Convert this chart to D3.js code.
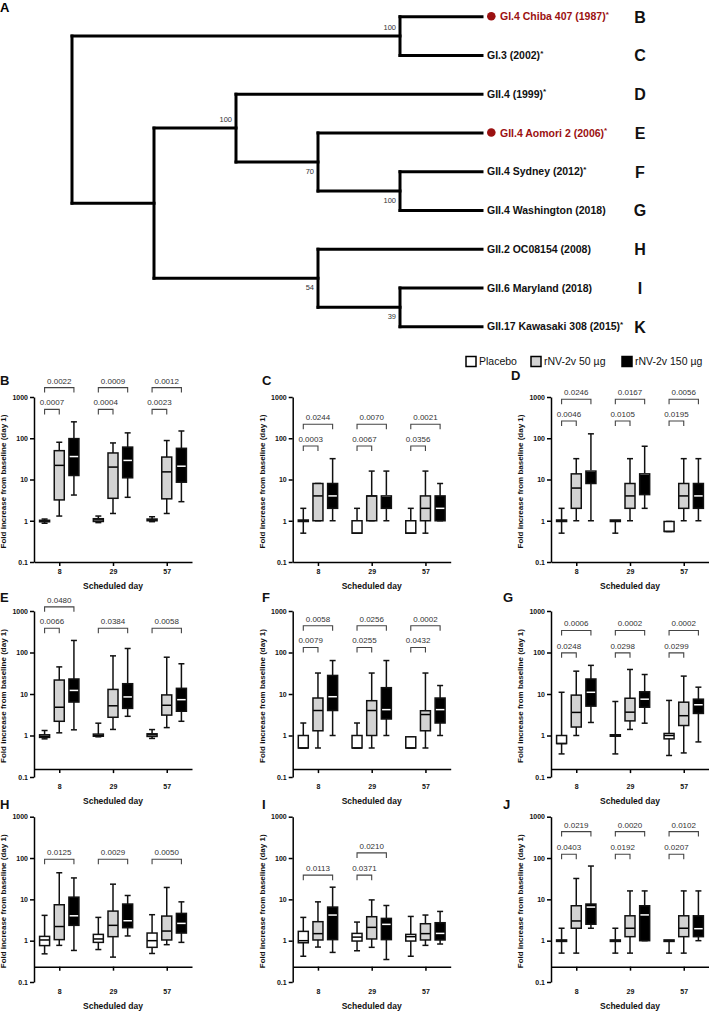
<!DOCTYPE html>
<html><head><meta charset="utf-8">
<script src="https://cdn.jsdelivr.net/npm/d3@7"></script>
<style>
body{margin:0;background:#fff}
svg{display:block}
text{font-family:"Liberation Sans",Arial,Helvetica,sans-serif}
</style>
</head><body>
<svg id="fig" width="709" height="1011"></svg>
<script>
// ---------------- DATA ----------------
// Phylogenetic tree (A)
const tipLabels = ["GI.4 Chiba 407 (1987)", "GI.3 (2002)", "GII.4 (1999)", "GII.4 Aomori 2 (2006)",
  "GII.4 Sydney (2012)", "GII.4 Washington (2018)", "GII.2 OC08154 (2008)", "GII.6 Maryland (2018)",
  "GII.17 Kawasaki 308 (2015)"];
const tipStar = [true, true, true, true, true, false, false, false, true];
const tipVaccine = [true, false, false, true, false, false, false, false, false];
const tipPanel = ["B", "C", "D", "E", "F", "G", "H", "I", "K"];
// topology with bootstrap support (leaf indices refer to tipLabels)
const treeNewick = "((0,1)100,((2,(3,(4,5)100)70)100,(6,(7,8)39)54))";

// Box plots (B–J)
const days = [8, 29, 57];
const groups = ["Placebo", "rNV-2v 50 µg", "rNV-2v 150 µg"];
const panelIds = ["B", "C", "D", "E", "F", "G", "H", "I", "J"];
const yTickValues = [0.1, 1, 10, 100, 1000];
// each box: [min, q1, median, q3, max]; order: day 8 (P, 50, 150), day 29 (...), day 57 (...)
const statsB = [[0.87,0.95,1,1.02,1.1],[1.3,3.2,22,50,80],[4.2,12.5,36,98,250],
  [0.9,0.96,1.05,1.12,1.3],[1.5,3.5,20,44,77],[3.7,11,29,61,135],
  [0.95,1,1.05,1.1,1.25],[1.5,3.4,15.3,35,88],[2.9,8.6,21,57,150]];
const statsC = [[0.5,1,1,1,2],[1,1,4,8,8],[1,2,4,8,32],
  [0.5,0.5,0.5,1,2],[1,1,4,4,16],[1,2,4,4,16],
  [0.5,0.5,0.5,1,2],[0.5,1,2,4,16],[1,1,2,4,8]];
const statsD = [[0.5,1,1,1,2],[1,2,6.2,13.7,32],[1,8,16,16,128],
  [0.5,1,1,1,1],[1,2,4,8,32],[2,4.3,13.7,13.7,64],
  [0.55,0.55,0.55,0.96,0.96],[1,2,4,8,32],[1,2,4,8,32]];
const statsE = [[0.83,0.9,0.96,1.04,1.32],[1.16,2.2,4.8,21.7,45],[1.37,6.4,12.2,23,195],
  [0.93,0.96,1,1.08,1.98],[1.4,2.75,5.2,12.9,83],[2.9,4.5,8.5,17.7,125],
  [0.85,0.95,1.04,1.1,1.39],[1.55,3.1,5.35,9.5,77],[2.2,3.84,7.3,13.7,53.5]];
const statsF = [[0.5,0.5,0.5,1,2],[0.5,1.3,4,8,32],[1,4,8.6,28,64],
  [0.5,0.5,0.5,1,2],[0.5,1,4,6.9,32],[1,2.5,4.2,14.2,64],
  [0.5,0.5,0.5,0.93,0.93],[0.5,1.3,3.2,3.95,32],[1,2,4.2,8,16]];
const statsG = [[0.36,0.64,0.64,1,11],[1,1.6,3.6,9.4,35.5],[2.06,5.1,11,23,49],
  [0.36,1,1,1,6.6],[1.4,2.25,3.65,7.9,39],[1.98,4.8,7.5,11.3,29.5],
  [0.33,0.83,1,1.12,7],[0.38,1.74,3,6.35,27],[0.7,3.4,5.5,7.5,14.6]];
const statsH = [[0.48,0.76,1.04,1.27,4.1],[0.77,1.06,2.2,7.4,44],[0.58,2.35,4,11.3,33],
  [0.61,0.91,1.1,1.42,3.66],[0.4,1.25,2.35,5.2,23.3],[1.3,2.06,3.04,7.7,12.4],
  [0.49,0.69,1,1.53,4.25],[0.8,1.04,1.71,3.94,19.4],[0.91,1.53,2.62,4.57,8.7]];
const statsI = [[0.42,0.89,1,1.68,3.66],[0.7,1.04,1.48,2.88,8.7],[0.52,1.06,4.17,6.5,19.7],
  [0.57,0.98,1.22,1.5,2.82],[0.69,1.1,2.1,3.8,9.7],[0.35,1.06,2.48,3.46,7.1],
  [0.42,0.98,1.25,1.42,3.86],[0.77,1.04,1.48,2.57,4.17],[0.83,1.04,1.5,2.72,5.1]];
const statsJ = [[0.5,1,1,1,2],[0.5,2,3,7,32],[2,2.5,6.5,7.7,64],
  [0.5,1,1,1,2],[0.5,1.25,2,4,16],[1,1,4.2,7,16],
  [0.5,1,1,1,1],[0.5,1.25,2,4,16],[1,1.25,1.95,4,16]];
// p-value comparisons vs placebo: [day, comparison group index, bracket tier, label]
const pB = [[8,1,1,"0.0007"],[8,2,0,"0.0022"],[29,1,1,"0.0004"],[29,2,0,"0.0009"],[57,1,1,"0.0023"],[57,2,0,"0.0012"]];
const pC = [[8,1,1,"0.0003"],[8,2,0,"0.0244"],[29,1,1,"0.0067"],[29,2,0,"0.0070"],[57,1,1,"0.0356"],[57,2,0,"0.0021"]];
const pD = [[8,1,1,"0.0046"],[8,2,0,"0.0246"],[29,1,1,"0.0105"],[29,2,0,"0.0167"],[57,1,1,"0.0195"],[57,2,0,"0.0056"]];
const pE = [[8,1,1,"0.0066"],[8,2,0,"0.0480"],[29,2,1,"0.0384"],[57,2,1,"0.0058"]];
const pF = [[8,1,1,"0.0079"],[8,2,0,"0.0058"],[29,1,1,"0.0255"],[29,2,0,"0.0256"],[57,1,1,"0.0432"],[57,2,0,"0.0002"]];
const pG = [[8,1,1,"0.0248"],[8,2,0,"0.0006"],[29,1,1,"0.0298"],[29,2,0,"0.0002"],[57,1,1,"0.0299"],[57,2,0,"0.0002"]];
const pH = [[8,2,0,"0.0125"],[29,2,0,"0.0029"],[57,2,0,"0.0050"]];
const pI = [[8,2,1,"0.0113"],[29,1,1,"0.0371"],[29,2,0,"0.0210"]];
const pJ = [[8,1,1,"0.0403"],[8,2,0,"0.0219"],[29,1,1,"0.0192"],[29,2,0,"0.0020"],[57,1,1,"0.0207"],[57,2,0,"0.0102"]];

// ---------------- LAYOUT / STYLE ----------------
const RED = "#9b1111";
const fills = ["#ffffff", "#d3d3d3", "#000000"];
const medianColors = ["#000", "#000", "#fff"];
// bracket tiers (fold level of bracket line) per panel: [upper, lower]
const tierLevels = {B:[1690,500], C:[218,65], D:[880,263], E:[1260,385], F:[442,132], G:[339,98], H:[93.5,93.5], I:[133,38.5], J:[436,123]};
const colX = [34, 292.7, 551];
const axisLen = 158;
const rowTop = [397, 611, 816.7];
const rowBottom = [562, 777, 982];
const xAxisAt = [0.1, 0.155, 0.235];
const letterX = [0, 262, 503];
const letterY = [385, 602, 809];

const svg = d3.select("#fig");
const FONT = '"Liberation Sans",Arial,sans-serif';

// ---------------- TREE ----------------
function parseNewick(s) {
  let i = 0;
  function node() {
    if (s[i] === "(") {
      i++;
      const children = [];
      while (true) {
        children.push(node());
        if (s[i] === ",") { i++; continue; }
        if (s[i] === ")") { i++; break; }
      }
      let lab = "";
      while (i < s.length && /[0-9]/.test(s[i])) lab += s[i++];
      return {children, support: lab};
    }
    let lab = "";
    while (/[0-9]/.test(s[i])) lab += s[i++];
    return {leaf: +lab};
  }
  return node();
}
const root = d3.hierarchy(parseNewick(treeNewick));
d3.cluster().separation(() => 1).size([1, 1])(root);
const leaves = root.leaves();
const tx = d3.scaleLinear().domain([0, 1]).range([72, 482]);
const ty = d3.scaleLinear().domain([leaves[0].x, leaves[leaves.length - 1].x]).range([16.7, 326.7]);

const tree = svg.append("g");
tree.append("text").attr("x", 0).attr("y", 12).attr("font-weight", "bold").attr("font-size", 13).text("A");
const branches = [];
root.each(n => {
  if (n.parent) branches.push([[tx(n.parent.y), ty(n.x)], [tx(n.y), ty(n.x)]]);
  if (n.children) {
    const c = n.children;
    branches.push([[tx(n.y), ty(c[0].x)], [tx(n.y), ty(c[c.length - 1].x)]]);
  }
});
tree.selectAll("path.br").data(branches).join("path").attr("class", "br")
  .attr("d", d => d3.line()(d)).attr("stroke", "#000").attr("stroke-width", 3)
  .attr("stroke-linecap", "square").attr("fill", "none");
root.each(n => {
  if (n.children && n.parent && n.data.support) {
    const isUpper = n.parent.children[0] === n;
    tree.append("text").attr("x", tx(n.y) - 4).attr("y", ty(n.x) + (isUpper ? -6 : 11.5))
      .attr("text-anchor", "end").attr("font-size", 7.5).attr("fill", "#333")
      .attr("font-family", '"DejaVu Sans",sans-serif').text(n.data.support);
  }
});
leaves.forEach(leaf => {
  const i = leaf.data.leaf;
  const yy = ty(leaf.x);
  let x = 487;
  const col = tipVaccine[i] ? RED : "#111";
  if (tipVaccine[i]) {
    tree.append("circle").attr("cx", x + 4.3).attr("cy", yy - 0.5).attr("r", 4.3).attr("fill", RED);
    x += 13;
  }
  const t = tree.append("text").attr("x", x).attr("y", yy + 3.7).attr("fill", col)
    .attr("font-weight", "bold").attr("font-size", 10.5).text(tipLabels[i]);
  if (tipStar[i]) t.append("tspan").attr("dy", -3.5).attr("font-size", 8).text("*");
  tree.append("text").attr("x", 640).attr("y", yy + 5.8).attr("text-anchor", "middle")
    .attr("font-weight", "bold").attr("font-size", 16).attr("fill", "#111").text(tipPanel[i]);
});

// ---------------- LEGEND ----------------
const legend = svg.append("g");
const legX = [466, 531, 622];
groups.forEach((g, k) => {
  legend.append("rect").attr("x", legX[k]).attr("y", 356.5).attr("width", 10).attr("height", 10)
    .attr("fill", fills[k]).attr("stroke", "#000").attr("stroke-width", 1.5);
  legend.append("text").attr("x", legX[k] + 13).attr("y", 365).attr("font-size", 10.5).attr("fill", "#111").text(g);
});

// ---------------- BOX PANELS ----------------
const allStats = [statsB, statsC, statsD, statsE, statsF, statsG, statsH, statsI, statsJ];
const allP = [pB, pC, pD, pE, pF, pG, pH, pI, pJ];

panelIds.forEach((id, pi) => {
  const col = pi % 3, row = Math.floor(pi / 3);
  const x0 = colX[col];
  const y = d3.scaleLog().domain([0.1, 1000]).range([rowBottom[row], rowTop[row]]);
  const x = d3.scalePoint().domain(days).range([x0, x0 + axisLen]).padding(0.47);
  const off = d3.scaleBand().domain(groups).range([-22, 22]);
  const cx = (d, g) => x(d) + off(groups[g]) + off.bandwidth() / 2;
  const g = svg.append("g");

  // panel letter
  g.append("text").attr("x", id === "D" ? 511 : letterX[col]).attr("y", id === "D" ? 380 : letterY[row])
    .attr("font-weight", "bold").attr("font-size", 13).attr("fill", "#111").text(id);

  // y axis
  const ya = g.append("g").attr("transform", `translate(${x0},0)`)
    .call(d3.axisLeft(y).tickValues(yTickValues).tickFormat(d => d < 1 ? "0.1" : d3.format("d")(d))
      .tickSize(4).tickSizeOuter(0).tickPadding(2));
  ya.select(".domain").attr("stroke-width", 1.5);
  ya.selectAll(".tick line").attr("stroke-width", 1.5);
  ya.selectAll(".tick text").attr("font-family", FONT).attr("font-weight", "bold").attr("font-size", 7).attr("fill", "#111");

  // x axis
  const lineY = y(xAxisAt[row]);
  const xa = g.append("g").attr("transform", `translate(0,${lineY})`)
    .call(d3.axisBottom(x).tickSize(4).tickSizeOuter(0).tickPadding(rowBottom[row] + 7.5 - lineY - 4));
  xa.select(".domain").attr("stroke-width", 1.5);
  xa.selectAll(".tick line").attr("stroke-width", 1.5);
  xa.selectAll(".tick text").attr("font-family", FONT).attr("font-weight", "bold").attr("font-size", 7).attr("fill", "#111");

  // axis titles
  g.append("text").attr("transform", `translate(${x0 - 28},${(rowTop[row] + rowBottom[row]) / 2 + 2}) rotate(-90)`)
    .attr("text-anchor", "middle").attr("font-weight", "bold").attr("font-size", 8).attr("fill", "#111")
    .text("Fold increase from baseline (day 1)");
  g.append("text").attr("x", x0 + axisLen / 2).attr("y", rowBottom[row] + 27)
    .attr("text-anchor", "middle").attr("font-weight", "bold").attr("font-size", 8.5).attr("fill", "#111")
    .text("Scheduled day");

  // boxes
  const stats = allStats[pi];
  const bw = 10, cap = 6;
  days.forEach((d, di) => {
    groups.forEach((gr, gi) => {
      const [mn, q1, md, q3, mx] = stats[di * 3 + gi];
      const c = cx(d, gi);
      const b = g.append("g");
      b.append("line").attr("x1", c).attr("x2", c).attr("y1", y(mx)).attr("y2", y(mn))
        .attr("stroke", "#111").attr("stroke-width", 1.5);
      [mn, mx].forEach(v => b.append("line").attr("x1", c - cap / 2).attr("x2", c + cap / 2)
        .attr("y1", y(v)).attr("y2", y(v)).attr("stroke", "#111").attr("stroke-width", 1.5));
      let top = y(q3), bot = y(q1);
      if (bot - top < 1.5) { const m = (top + bot) / 2; top = m - 0.75; bot = m + 0.75; }
      b.append("rect").attr("x", c - bw / 2).attr("y", top).attr("width", bw).attr("height", bot - top)
        .attr("fill", fills[gi]).attr("stroke", "none");
      b.append("line").attr("x1", c - bw / 2).attr("x2", c + bw / 2).attr("y1", y(md)).attr("y2", y(md))
        .attr("stroke", medianColors[gi]).attr("stroke-width", 1.5);
      b.append("rect").attr("x", c - bw / 2).attr("y", top).attr("width", bw).attr("height", bot - top)
        .attr("fill", "none").attr("stroke", "#111").attr("stroke-width", 1.5);
    });
  });

  // p-value brackets
  const tiers = tierLevels[id];
  allP[pi].forEach(([d, gi, tier, lab]) => {
    const xa1 = cx(d, 0), xb1 = cx(d, gi), yb = y(tiers[tier]);
    g.append("path").attr("d", `M${xa1},${yb + 5}V${yb}H${xb1}V${yb + 5}`)
      .attr("fill", "none").attr("stroke", "#444").attr("stroke-width", 1.1);
    g.append("text").attr("x", (xa1 + xb1) / 2).attr("y", yb - 4).attr("text-anchor", "middle")
      .attr("font-size", 8).attr("fill", "#333").text(lab);
  });
});
</script>
</body></html>
